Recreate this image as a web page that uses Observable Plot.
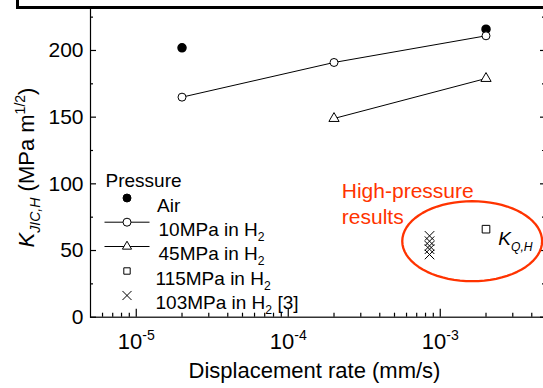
<!DOCTYPE html>
<html><head><meta charset="utf-8">
<script src="https://cdn.jsdelivr.net/npm/d3@7"></script>
<script src="https://cdn.jsdelivr.net/npm/@observablehq/plot@0.6"></script>
<style>
body{margin:0;background:#fff;}
#wrap{position:relative;width:543px;height:388px;overflow:hidden;background:#fff;}
#box{position:absolute;left:16px;top:-60px;width:600px;height:63px;border:3px solid #000;z-index:2;}
#wrap svg{position:absolute;left:0;top:0;}
</style></head><body><div id="wrap"><div id="box"></div></div>
<script>
// ---- data ----
const airRate = [2e-5, 2e-3];
const airK = [202, 216];
const h10Rate = [2e-5, 2e-4, 2e-3];
const h10K = [165, 191, 211];
const h45Rate = [2e-4, 2e-3];
const h45K = [149, 179];
const h115Rate = [2e-3];
const h115K = [66];
const h103Rate = [8.5e-4, 8.5e-4, 8.5e-4, 8.5e-4, 8.5e-4];
const h103K = [61, 57, 53.5, 51, 47];

const yTicks = [0, 50, 100, 150, 200];
const yMinor = [25, 75, 125, 175, 225];
const xTicks = [1e-5, 1e-4, 1e-3];
const xTickLabels = ["10<sup>-5</sup>", "10<sup>-4</sup>", "10<sup>-3</sup>"];
const xMinor = [6e-6, 7e-6, 8e-6, 9e-6, 2e-5, 3e-5, 4e-5, 5e-5, 6e-5, 7e-5, 8e-5, 9e-5,
  2e-4, 3e-4, 4e-4, 5e-4, 6e-4, 7e-4, 8e-4, 9e-4, 2e-3, 3e-3, 4e-3];
const xDomain = [5e-6, 5e-3];
const yDomain = [0, 232];

const xLabel = "Displacement rate (mm/s)";
const yLabel = "<i>K<sub>JIC,H</sub></i> (MPa m<sup>1/2</sup>)";
const legendTitle = "Pressure";
const legendLabels = ["Air", "10MPa in H<sub>2</sub>", "45MPa in H<sub>2</sub>", "115MPa in H<sub>2</sub>", "103MPa in H<sub>2</sub> [3]"];
const noteTexts = ["High-pressure\nresults", "<i>K<sub>Q,H</sub></i>"];
const noteRate = [2.25e-4, 2.41e-3];
const noteK = [70, 53.8];
// ellipse annotation (log10 rate centre, half-width in decades, K centre, half-height)
const ellipseLogCenter = -2.79, ellipseLogHalf = 0.46, ellipseKCenter = 57, ellipseKHalf = 30;

// ---- layout ----
const W = 543, H = 388;
const mLeft = 90, xRight = 546, yTop = 7.3, yBottom = 316.7;
const pw = xRight - mLeft, ph = yBottom - yTop;
const font = "'Liberation Sans', Arial, Helvetica, sans-serif";
const red = "#ff3300";

const ellipsePts = d3.range(0, 73).map(i => {
  const t = i / 72 * 2 * Math.PI;
  return {rate: Math.pow(10, ellipseLogCenter + ellipseLogHalf * Math.cos(t)), k: ellipseKCenter + ellipseKHalf * Math.sin(t)};
});

const lineSym = {draw(ctx) { ctx.moveTo(-22.5, 0); ctx.lineTo(22.5, 0); }};
const legendSymbols = [
  {symbol: "circle", fill: "black", stroke: "black", r: 4, line: false},
  {symbol: "circle", fill: "white", stroke: "black", r: 4, line: true},
  {symbol: "triangle", fill: "white", stroke: "black", r: 3.4, line: true},
  {symbol: "square", fill: "white", stroke: "black", r: 3.6, line: false},
  {symbol: "times", fill: "none", stroke: "black", r: 4.2, line: false}
];
const rowY = [190.2, 214.4, 238.7, 263.2, 287.7];
const rowTextX = [66.5, 68, 68, 65, 65];

const legendMarks = [
  Plot.text([legendTitle], {text: d => d, frameAnchor: "top-left", dx: 15, dy: 165.7, textAnchor: "start", fontSize: 19, fill: "black"})
];
legendSymbols.forEach((s, i) => {
  if (s.line) legendMarks.push(Plot.dot([0], {frameAnchor: "top-left", dx: 36.5, dy: rowY[i], symbol: lineSym, stroke: "black", fill: "none", strokeWidth: 1}));
  legendMarks.push(Plot.dot([0], {frameAnchor: "top-left", dx: 36.5, dy: rowY[i], symbol: s.symbol, r: s.r, fill: s.fill, stroke: s.stroke, strokeWidth: 1}));
  legendMarks.push(Plot.text([legendLabels[i]], {text: d => d, frameAnchor: "top-left", dx: rowTextX[i], dy: rowY[i], textAnchor: "start", fontSize: 19, fill: "black"}));
});

const chart = Plot.plot({
  width: W, height: H,
  marginLeft: mLeft, marginRight: W - xRight, marginTop: yTop, marginBottom: H - yBottom,
  style: {fontFamily: font, background: "transparent", overflow: "visible"},
  x: {type: "log", domain: xDomain, range: [mLeft, xRight], axis: null},
  y: {type: "linear", domain: yDomain, range: [yBottom, yTop], axis: null},
  marks: [
    Plot.frame({stroke: "black", strokeWidth: 1.2}),
    // ticks (inward)
    Plot.tickX(xTicks, {x: d => d, insetTop: ph - 8, stroke: "black", strokeWidth: 1.2}),
    Plot.tickX(xMinor, {x: d => d, insetTop: ph - 4, stroke: "black", strokeWidth: 1.2}),
    Plot.tickY(yTicks, {y: d => d, insetRight: pw - 6, stroke: "black", strokeWidth: 1.2}),
    Plot.tickY(yMinor, {y: d => d, insetRight: pw - 3, stroke: "black", strokeWidth: 1.2}),
    Plot.tickY(yTicks, {y: d => d, insetLeft: pw - 6, stroke: "black", strokeWidth: 1.2}),
    Plot.tickY(yMinor, {y: d => d, insetLeft: pw - 4, stroke: "black", strokeWidth: 1.2}),
    // tick labels
    Plot.text(yTicks, {y: d => d, text: d => String(d), frameAnchor: "left", textAnchor: "end", dx: -7, fontSize: 21, fill: "black"}),
    Plot.text(xTicks, {x: d => d, text: (d, i) => xTickLabels[i], frameAnchor: "bottom", lineAnchor: "bottom", textAnchor: "middle", dy: 32, fontSize: 22, fill: "black"}),
    // axis titles
    Plot.text([xLabel], {text: d => d, frameAnchor: "bottom", lineAnchor: "bottom", textAnchor: "middle", dx: -4, dy: 60.5, fontSize: 22, fill: "black"}),
    Plot.text([yLabel], {text: d => d, frameAnchor: "left", textAnchor: "middle", rotate: -90, dx: -64, dy: 5, fontSize: 22, fill: "black"}),
    // data
    Plot.line(h10Rate.map((r, i) => ({r, k: h10K[i]})), {x: "r", y: "k", stroke: "black", strokeWidth: 1}),
    Plot.line(h45Rate.map((r, i) => ({r, k: h45K[i]})), {x: "r", y: "k", stroke: "black", strokeWidth: 1}),
    Plot.dot(airRate.map((r, i) => ({r, k: airK[i]})), {x: "r", y: "k", r: 4, fill: "black", stroke: "black"}),
    Plot.dot(h10Rate.map((r, i) => ({r, k: h10K[i]})), {x: "r", y: "k", r: 4, fill: "white", stroke: "black", strokeWidth: 1}),
    Plot.dot(h45Rate.map((r, i) => ({r, k: h45K[i]})), {x: "r", y: "k", symbol: "triangle", r: 3.8, fill: "white", stroke: "black", strokeWidth: 1}),
    Plot.dot(h115Rate.map((r, i) => ({r, k: h115K[i]})), {x: "r", y: "k", symbol: "square", r: 4.3, fill: "white", stroke: "black", strokeWidth: 1}),
    Plot.dot(h103Rate.map((r, i) => ({r, k: h103K[i]})), {x: "r", y: "k", symbol: "times", r: 4.4, fill: "none", stroke: "black", strokeWidth: 1}),
    // annotations
    Plot.line(ellipsePts, {x: "rate", y: "k", curve: "linear-closed", stroke: red, strokeWidth: 2.3}),
    Plot.text([0], {x: () => noteRate[0], y: () => noteK[0], text: () => noteTexts[0], textAnchor: "start", lineAnchor: "bottom", lineHeight: 1.25, fontSize: 21, fill: red}),
    Plot.text([0], {x: () => noteRate[1], y: () => noteK[1], text: () => noteTexts[1], textAnchor: "start", lineAnchor: "bottom", fontSize: 19, fill: "black"}),
    ...legendMarks
  ]
});

document.getElementById("wrap").appendChild(chart);

// rich text: <i>, <sub>, <sup>
function rich(el) {
  const s = el.textContent;
  if (!s.includes("<")) return;
  const base = parseFloat(getComputedStyle(el).fontSize);
  while (el.firstChild) el.removeChild(el.firstChild);
  let italic = false, mode = null, cur = 0;
  for (const tok of s.split(/(<\/?(?:i|sub|sup)>)/)) {
    if (!tok) continue;
    if (tok === "<i>") { italic = true; continue; }
    if (tok === "</i>") { italic = false; continue; }
    if (tok === "<sub>") { mode = "sub"; continue; }
    if (tok === "<sup>") { mode = "sup"; continue; }
    if (tok === "</sub>" || tok === "</sup>") { mode = null; continue; }
    const ts = document.createElementNS("http://www.w3.org/2000/svg", "tspan");
    const target = mode === "sub" ? base * 0.28 : mode === "sup" ? -base * 0.4 : 0;
    ts.setAttribute("font-size", mode ? base * 0.64 : base);
    if (italic) ts.setAttribute("font-style", "italic");
    if (target !== cur) ts.setAttribute("dy", target - cur);
    cur = target;
    ts.textContent = tok;
    el.appendChild(ts);
  }
}
chart.querySelectorAll("text").forEach(rich);
</script>
</body></html>
